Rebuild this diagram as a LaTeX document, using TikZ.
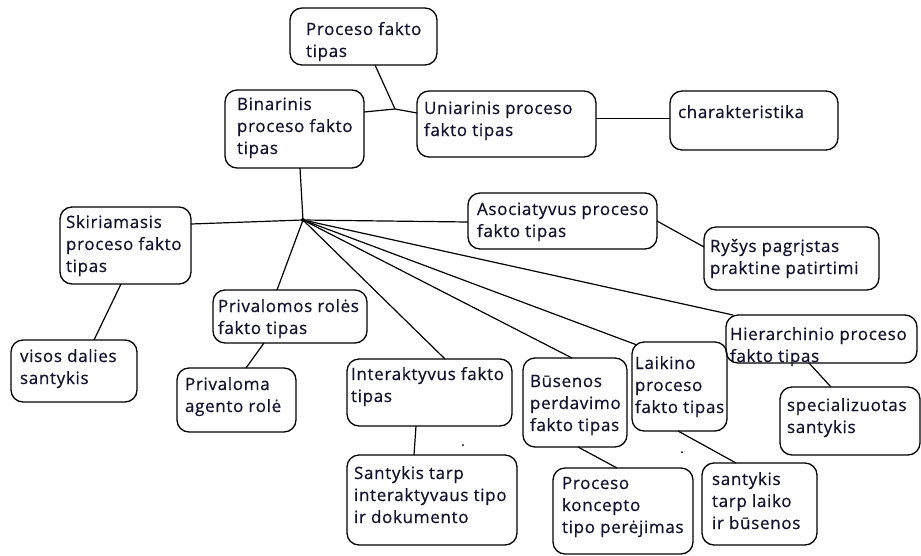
\documentclass[tikz,border=0pt]{standalone}
\usepackage{fontspec}
\setmainfont[LetterSpace=4,FakeBold=0.6]{Open Sans}
\definecolor{ink}{HTML}{12122E}
\begin{document}
\begin{tikzpicture}[x=1pt,y=-1pt,
  box/.style={draw=black, line width=1.3pt, rounded corners=12pt,
    inner sep=0pt, outer sep=0pt, anchor=north west},
  txt/.style={inner sep=0pt, outer sep=0pt, anchor=north west, align=left,
    text=ink, font=\fontsize{17}{22}\selectfont},
  link/.style={draw=black, line width=1.2pt}]
\useasboundingbox (0,0) rectangle (921,555);
% first line of every label gets a fixed-height strut so labels are placed by baseline
\newcommand{\fl}{\rule{0pt}{16pt}}
% boxes: (left,top), width, height
\node[box, minimum width=147, minimum height=57] (pft) at (290,8) {};
\node[box, minimum width=139, minimum height=78] (bin) at (225,90) {};
\node[box, minimum width=179, minimum height=66] (uni) at (417,91) {};
\node[box, minimum width=168, minimum height=59] (char) at (670,91) {};
\node[box, minimum width=131, minimum height=77] (skir) at (60,207) {};
\node[box, minimum width=126, minimum height=62] (visos) at (11,340) {};
\node[box, minimum width=154, minimum height=53] (privr) at (213,290) {};
\node[box, minimum width=119, minimum height=64] (priva) at (177,368) {};
\node[box, minimum width=165, minimum height=67] (inter) at (347,359) {};
\node[box, minimum width=170, minimum height=90] (sant) at (347,455) {};
\node[box, minimum width=189, minimum height=56] (asoc) at (468,193) {};
\node[box, minimum width=175, minimum height=63] (rysys) at (704,227) {};
\node[box, minimum width=191, minimum height=48] (hier) at (726,315) {};
\node[box, minimum width=104, minimum height=89] (bus) at (523,358) {};
\node[box, minimum width=95, minimum height=89] (laik) at (632,342) {};
\node[box, minimum width=140, minimum height=68] (spec) at (780,387) {};
\node[box, minimum width=140, minimum height=86] (prok) at (553,468) {};
\node[box, minimum width=115, minimum height=82] (sltb) at (702,463) {};
% labels, placed at (left, first baseline - 16)
\node[txt] (pft-t) at (306,19) {\fl Proceso fakto\\tipas};
\node[txt] (bin-t) at (237,94) {\fl Binarinis\\proceso fakto\\tipas};
\node[txt] (uni-t) at (424,98) {\fl Uniarinis proceso\\fakto tipas};
\node[txt] (char-t) at (678,102) {\fl charakteristika};
\node[txt] (skir-t) at (66,212) {\fl Skiriamasis\\proceso fakto\\tipas};
\node[txt] (visos-t) at (20,346) {\fl visos dalies\\santykis};
\node[txt] (privr-t) at (218,296) {\fl Privalomos rolės\\fakto tipas};
\node[txt] (priva-t) at (185,374) {\fl Privaloma\\agento rolė};
\node[txt] (inter-t) at (351,364) {\fl Interaktyvus fakto\\tipas};
\node[txt] (sant-t) at (354,463) {\fl Santykis tarp\\interaktyvaus tipo\\ir dokumento};
\node[txt] (asoc-t) at (477,199) {\fl Asociatyvus proceso\\fakto tipas};
\node[txt] (rysys-t) at (710,236) {\fl Ryšys pagrįstas\\praktine patirtimi};
\node[txt] (hier-t) at (730,324) {\fl Hierarchinio proceso\\fakto tipas};
\node[txt] (bus-t) at (530,371) {\fl Būsenos\\perdavimo\\fakto tipas};
\node[txt] (laik-t) at (635,353) {\fl Laikino\\proceso\\fakto tipas};
\node[txt] (spec-t) at (787,395) {\fl specializuotas\\santykis};
\node[txt] (prok-t) at (562,473) {\fl Proceso\\koncepto\\tipo perėjimas};
\node[txt] (sltb-t) at (712,469) {\fl santykis\\tarp laiko\\ir būsenos};
% junction points
\coordinate (j1) at (395,109);
\coordinate (hub) at (303,220);
% upper cluster
\draw[link] ([yshift=-22pt]bin.north east) -- (j1) -- ([yshift=-22pt]uni.north west);
\draw[link] ([xshift=85pt]pft.south west) -- (j1);
\draw[link] ([yshift=-27.5pt]uni.north east) -- ([yshift=-27.5pt]char.north west);
% spokes from the hub
\draw[link] ([xshift=75pt]bin.south west) -- (hub);
\draw[link] ([yshift=-17pt]skir.north east) -- (hub);
\draw[link] (hub) -- ([xshift=64pt]privr.north west);
\draw[link] (hub) -- ([xshift=98pt]inter.north west);
\draw[link] (hub) -- ([xshift=49pt]bus.north west);
\draw[link] (hub) -- ([xshift=5pt,yshift=-3pt]laik.north west);
\draw[link] (hub) -- ([xshift=7pt]hier.north west);
\draw[link] (hub) -- ([yshift=-29pt]asoc.north west);
\fill (hub) circle (2);
% leaf links
\draw[link] ([yshift=-28pt]asoc.north east) -- ([yshift=-20pt]rysys.north west);
\draw[link] ([xshift=61pt]skir.south west) -- ([xshift=83pt]visos.north west);
\draw[link] ([xshift=51pt]privr.south west) -- ([xshift=69pt]priva.north west);
\draw[link] ([xshift=69pt]inter.south west) -- ([xshift=67pt]sant.north west);
\draw[link] ([xshift=55pt]bus.south west) -- ([xshift=64pt]prok.north west);
\draw[link] ([xshift=46pt]laik.south west) -- ([xshift=34pt]sltb.north west);
\draw[link] ([xshift=83pt]hier.south west) -- ([xshift=51pt]spec.north west);
% stray specks
\fill (463,445) circle (1);
\fill (682,452) circle (1);
\end{tikzpicture}
\end{document}
